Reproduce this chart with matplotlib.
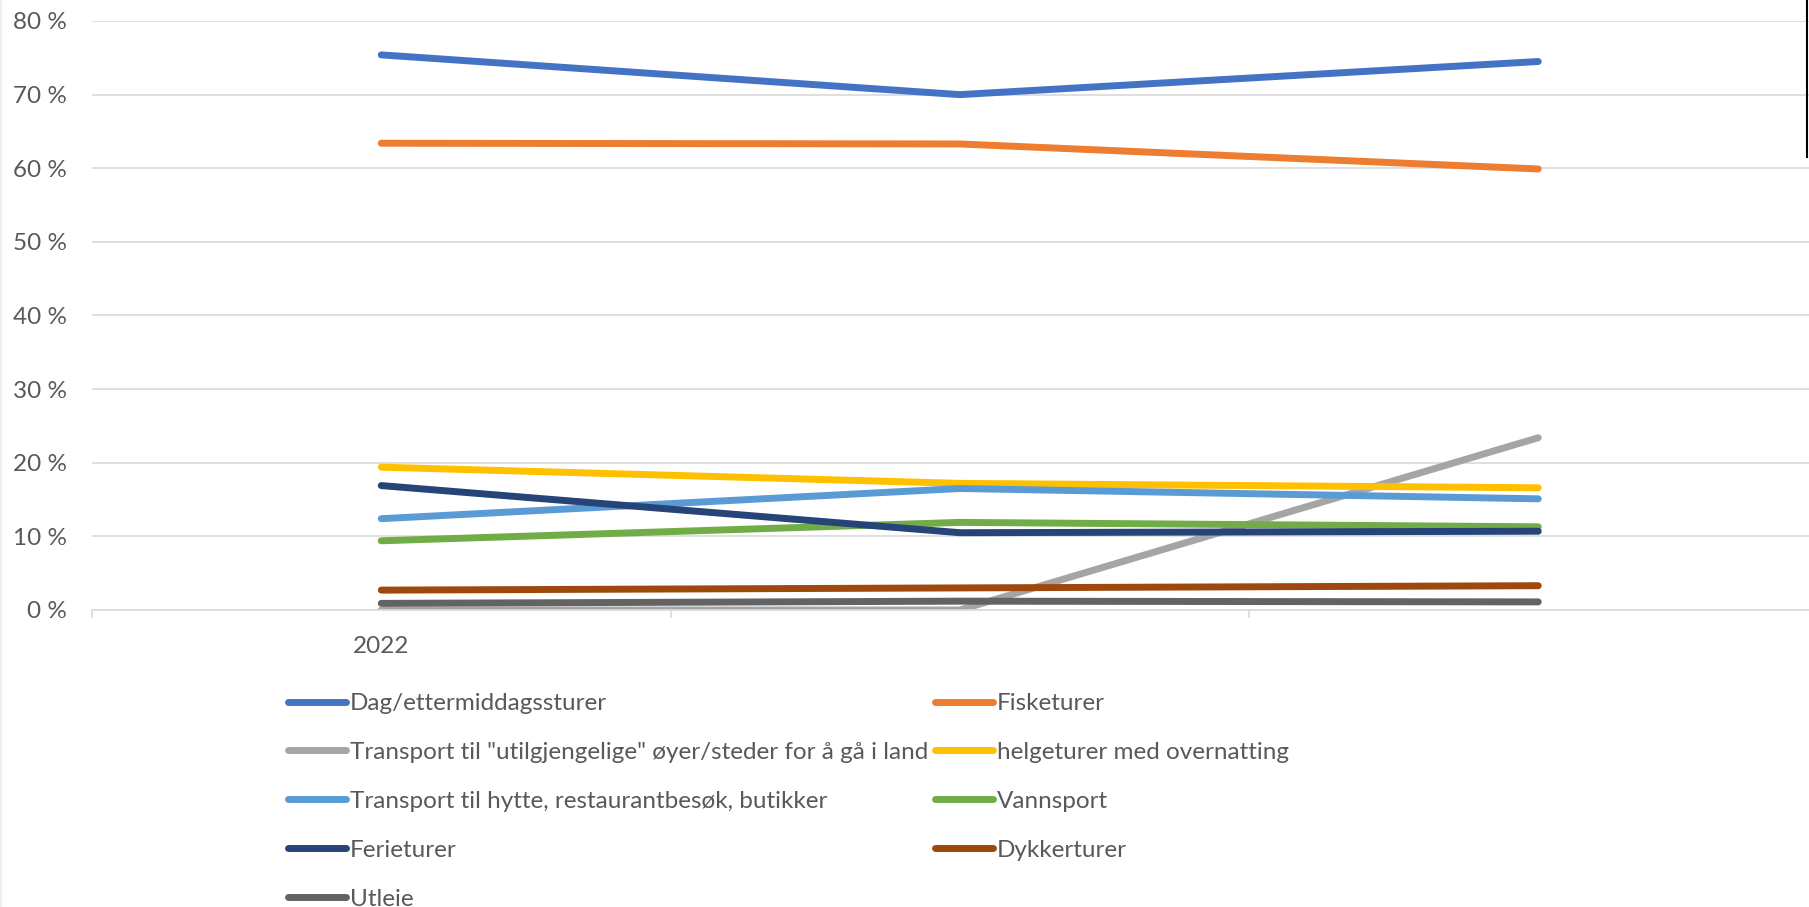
import matplotlib
matplotlib.use("Agg")
import matplotlib.pyplot as plt
from matplotlib.lines import Line2D

plt.rcParams['font.family'] = ['Lato', 'DejaVu Sans']

categories = ["2022", "", ""]
series_names = [
    "Dag/ettermiddagssturer",
    "Fisketurer",
    'Transport til "utilgjengelige" øyer/steder for å gå i land',
    "helgeturer med overnatting",
    "Transport til hytte, restaurantbesøk, butikker",
    "Vannsport",
    "Ferieturer",
    "Dykkerturer",
    "Utleie",
]
dag = [75.4, 70.0, 74.5]
fisketurer = [63.4, 63.3, 59.9]
utilgjengelige = [0.0, 0.0, 23.4]
helgeturer = [19.4, 17.2, 16.6]
hytte = [12.4, 16.5, 15.1]
vannsport = [9.4, 11.9, 11.3]
ferieturer = [16.9, 10.5, 10.7]
dykkerturer = [2.7, 3.0, 3.3]
utleie = [0.9, 1.2, 1.1]
values = [dag, fisketurer, utilgjengelige, helgeturer, hytte, vannsport,
          ferieturer, dykkerturer, utleie]
colors = ["#4472C4", "#ED7D31", "#A5A5A5", "#FFC000", "#5B9BD5",
          "#70AD47", "#264478", "#9E480E", "#636363"]
yticks = [0, 10, 20, 30, 40, 50, 60, 70, 80]
ytick_labels = ["%d %%" % t for t in yticks]

text_col = "#595959"
grid_col = "#d9d9d9"

fig = plt.figure(figsize=(18.09, 9.07), dpi=100)
ax = fig.add_axes([92 / 1809, 1 - 610 / 907, 1 - 92 / 1809, (610 - 21) / 907])

x = range(len(categories))
handles = []
for name, vals, c in zip(series_names, values, colors):
    h, = ax.plot(x, vals, color=c, lw=5, solid_capstyle='round',
                 solid_joinstyle='round', label=name)
    handles.append(h)

ax.set_yticks(yticks)
ax.set_yticklabels(ytick_labels)
ax.set_xticks(list(x))
ax.set_xticklabels(categories)
ax.set_xticks([-0.5, 0.5, 1.5], minor=True)
ax.set_ylim(0, 80)
ax.set_xlim(-0.5, 2.468)
ax.tick_params(axis='y', length=0, pad=18, labelsize=17.5, labelcolor=text_col)
ax.tick_params(axis='x', which='major', length=0, pad=19, labelsize=17.5,
               labelcolor=text_col)
ax.tick_params(axis='x', which='minor', length=6, width=1.2, color=grid_col)
ax.grid(axis='y', color=grid_col, lw=1.2)
ax.set_axisbelow(True)
for s in ['top', 'right', 'left']:
    ax.spines[s].set_visible(False)
ax.spines['bottom'].set_color(grid_col)
ax.spines['bottom'].set_linewidth(1.2)

leg_kw = dict(frameon=False, fontsize=17.5, labelcolor=text_col,
              handlelength=2.4, handletextpad=0.15, labelspacing=1.15,
              borderpad=0, borderaxespad=0, loc='upper left')
col1 = [0, 2, 4, 6, 8]
col2 = [1, 3, 5, 7]
fig.legend([handles[i] for i in col1], [series_names[i] for i in col1],
           bbox_to_anchor=(288 / 1809, 1 - 693 / 907), **leg_kw)
fig.legend([handles[i] for i in col2], [series_names[i] for i in col2],
           bbox_to_anchor=(935 / 1809, 1 - 693 / 907), **leg_kw)

fig.add_artist(Line2D([1807 / 1809, 1807 / 1809], [1, 1 - 157 / 907],
                      color='black', lw=1.5))
fig.add_artist(Line2D([1 / 1809, 1 / 1809], [0, 1], color='#eeeeee', lw=1.5))

fig.savefig("out.png", dpi=100)
